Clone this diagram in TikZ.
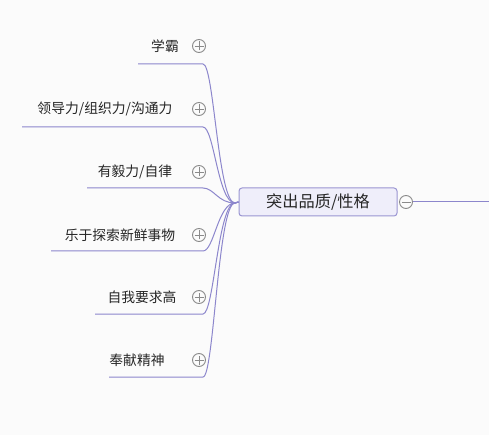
\documentclass[tikz,border=0pt]{standalone}
\usepackage{fontspec}
\newfontfamily\cjk{Noto Sans CJK SC}
\definecolor{bg}{HTML}{FBFBFB}
\definecolor{edge}{HTML}{8C86CC}
\definecolor{boxfill}{HTML}{EFEEFA}
\definecolor{boxline}{HTML}{9A95D2}
\definecolor{txt}{HTML}{262626}
\definecolor{tog}{HTML}{8A8A8A}
\tikzset{
  leaf/.style={font=\cjk\fontsize{13.8}{15}\selectfont, text=txt, inner sep=0pt},
  central/.style={draw=boxline, fill=boxfill, line width=1pt, rounded corners=3pt,
     minimum width=158pt, minimum height=28pt, inner sep=0pt, font=\cjk\fontsize{16.2}{18}\selectfont, text=txt},
  togglebox/.style={circle, draw=tog, line width=0.9pt, minimum size=13pt, inner sep=0pt, fill=bg},
  conn/.style={draw=edge, line width=1pt},
}
\newcommand{\plussign}[1]{\draw[tog, line width=0.9pt] ([xshift=-4.5pt]#1.center) -- ([xshift=4.5pt]#1.center) ([yshift=-4.5pt]#1.center) -- ([yshift=4.5pt]#1.center);}
\begin{document}
\begin{tikzpicture}[x=1pt,y=-1pt]
\fill[bg] (0,0) rectangle (489,435);
\useasboundingbox (0,0) rectangle (489,435);

\node[central] (c) at (318,202) {突出品质/性格};
\coordinate (hub) at (235,203);
\node[togglebox] (m) at (406,202) {};
\draw[tog, line width=0.9pt] ([xshift=-4.5pt]m.center) -- ([xshift=4.5pt]m.center);
\coordinate (right) at (489,202);
\draw[conn] (m.east) -- (right);

% leaves
\node[leaf] (t1) at (165,46) {学霸};
\node[leaf] (t2) at (105,109) {领导力/组织力/沟通力};
\node[leaf] (t3) at (135,172) {有毅力/自律};
\node[leaf] (t4) at (120,235) {乐于探索新鲜事物};
\node[leaf] (t5) at (142,297) {自我要求高};
\node[leaf] (t6) at (137,360) {奉献精神};

\foreach \i/\y in {1/46,2/109,3/172,4/235,5/297,6/360}{
  \node[togglebox] (p\i) at (199,\y) {};
  \plussign{p\i}
}

\coordinate (s1) at (138,64);  \coordinate (e1) at (203,64);
\coordinate (s2) at (22,127);  \coordinate (e2) at (203,127);
\coordinate (s3) at (87,188);  \coordinate (e3) at (203,188);
\coordinate (s4) at (51,251);  \coordinate (e4) at (203,251);
\coordinate (s5) at (95,314);  \coordinate (e5) at (203,314);
\coordinate (s6) at (109,377); \coordinate (e6) at (203,377);

\foreach \i in {1,...,6}{
  \draw[conn] (s\i) -- (e\i) .. controls ([xshift=11pt]e\i) and ([xshift=-17pt]hub) .. (hub) -- (c.west);
}
\end{tikzpicture}
\end{document}
